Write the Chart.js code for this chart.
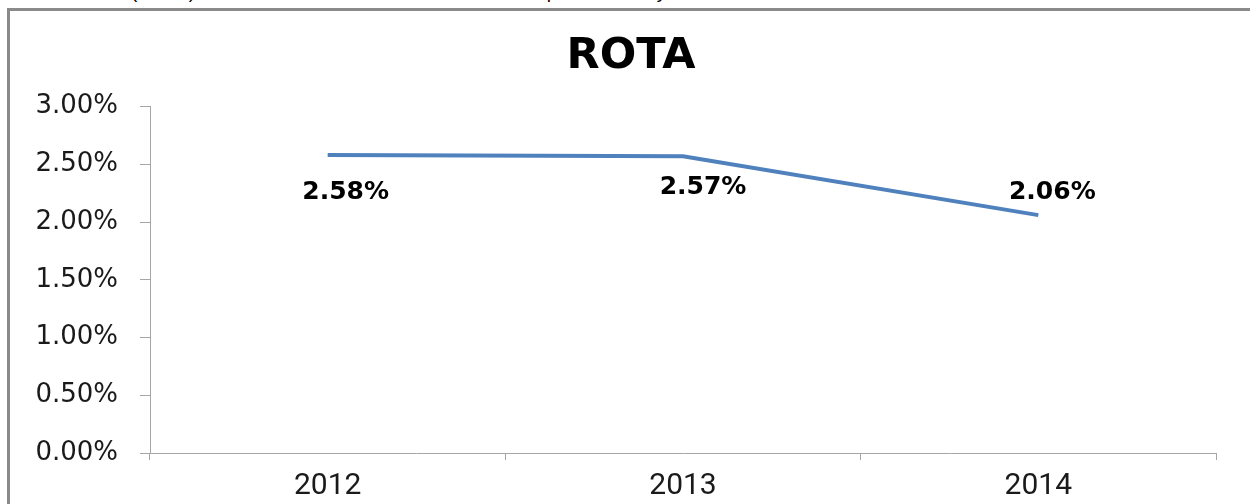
<!DOCTYPE html>
<html>
<head>
<meta charset="utf-8">
<script src="https://cdn.jsdelivr.net/npm/chart.js@4.4.1/dist/chart.umd.min.js"></script>
<style>
  html, body { margin: 0; padding: 0; width: 1250px; height: 504px; overflow: hidden; background: #fff; }
  #caption { position: absolute; left: -64px; top: -18px; font: 19px "Liberation Sans", Arial, sans-serif; line-height: 19px; color: #000; white-space: nowrap; }
  #frame { position: absolute; left: 7px; top: 8px; width: 1300px; height: 600px; border: 3px solid #8a8a8a; box-sizing: border-box; }
  #wrap { position: absolute; left: 10px; top: 11px; width: 1242px; height: 493px; }
</style>
</head>
<body>
<div id="caption">Return on Total Assets (ROTA) for the bank has declined in 2014 as compared to last year.</div>
<div id="frame"></div>
<div id="wrap"><canvas id="c" width="1242" height="493"></canvas></div>
<script>
const categories = ['2012', '2013', '2014'];
const rotaValues = [2.58, 2.57, 2.06];
const yTicks = [0, 0.5, 1.0, 1.5, 2.0, 2.5, 3.0];
const chartTitle = 'ROTA';

const fmt = v => v.toFixed(2) + '%';

const valueLabels = {
  id: 'valueLabels',
  afterDatasetsDraw(chart, args, opts) {
    const ctx = chart.ctx;
    const meta = chart.getDatasetMeta(0);
    ctx.save();
    ctx.font = opts.font;
    ctx.fillStyle = opts.color;
    ctx.textAlign = 'center';
    ctx.textBaseline = 'middle';
    meta.data.forEach((pt, i) => {
      const off = opts.offsets[i];
      ctx.fillText(fmt(rotaValues[i]), pt.x + off[0], pt.y + off[1]);
    });
    ctx.restore();
  }
};

new Chart(document.getElementById('c'), {
  type: 'line',
  data: {
    labels: categories,
    datasets: [{
      data: rotaValues,
      borderColor: '#4f81bd',
      borderWidth: 4,
      pointRadius: 0,
      tension: 0,
      fill: false,
      yAxisID: 'y'
    }]
  },
  options: {
    responsive: false,
    animation: false,
    devicePixelRatio: 1,
    layout: { padding: { left: 0, right: 0, top: 0, bottom: 0 } },
    plugins: {
      legend: { display: false },
      tooltip: { enabled: false },
      title: {
        display: true,
        text: chartTitle,
        color: '#000',
        font: { family: 'DejaVu Sans', weight: 'bold', size: 43, lineHeight: 1.2 },
        padding: { top: 20, bottom: 24 }
      },
      valueLabels: {
        font: 'bold 25px "DejaVu Sans"',
        color: '#000',
        offsets: [[18, 37], [20, 31], [14, -23]]
      }
    },
    scales: {
      x: {
        type: 'category',
        offset: true,
        grid: { offset: true, drawOnChartArea: false, drawTicks: true, tickLength: 7, color: '#a6a6a6' },
        border: { display: true, color: '#a6a6a6', width: 1 },
        ticks: { color: '#1a1a1a', font: { family: 'Roboto', size: 30 }, padding: 8, maxRotation: 0, autoSkip: false },
        afterFit(scale) { scale.height = 51; }
      },
      y: {
        position: 'left',
        min: 0,
        max: 3,
        afterBuildTicks(scale) { scale.ticks = yTicks.map(v => ({ value: v })); },
        grid: { drawOnChartArea: false, drawTicks: true, tickLength: 10, color: '#a6a6a6' },
        border: { display: true, color: '#a6a6a6', width: 1 },
        ticks: { color: '#1a1a1a', font: { family: 'DejaVu Sans', size: 26 }, padding: 22, callback: v => fmt(v) },
        afterFit(scale) { scale.width = 140; }
      },
      ySpacer: {
        position: 'right',
        min: 0,
        max: 3,
        grid: { display: false, drawTicks: false },
        border: { display: false },
        ticks: { display: false },
        afterFit(scale) { scale.width = 36; }
      }
    }
  },
  plugins: [valueLabels]
});
</script>
</body>
</html>
